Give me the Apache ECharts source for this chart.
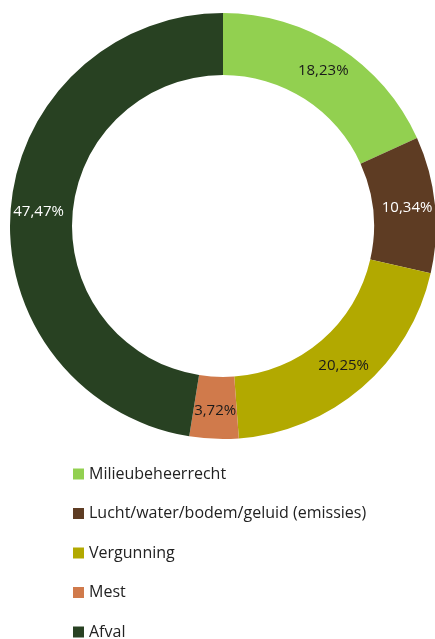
<!DOCTYPE html>
<html>
<head>
<meta charset="utf-8">
<script src="https://cdn.jsdelivr.net/npm/echarts@6/dist/echarts.min.js"></script>
<style>
  html, body { margin: 0; padding: 0; background: #fff; }
  #chart { width: 435px; height: 639px; }
</style>
</head>
<body>
<div id="chart"></div>
<script>
// categories and shares (%)
const categories = ['Milieubeheerrecht', 'Lucht/water/bodem/geluid (emissies)', 'Vergunning', 'Mest', 'Afval']
const shares = [18.23, 10.34, 20.25, 3.72, 47.47]
const colors = ['#92d050', '#5e3c23', '#b2a900', '#d07a4b', '#284122']
const labelColors = ['#1a1a1a', '#ffffff', '#1a1a1a', '#1a1a1a', '#ffffff']

const myChart = echarts.init(document.getElementById('chart'))
myChart.setOption({
    animation: false,
    legend: {
        orient: 'vertical',
        left: 68,
        top: 461,
        height: 220,
        itemWidth: 11,
        itemHeight: 11,
        itemGap: 23.5,
        icon: 'rect',
        textStyle: {
            fontFamily: 'Open Sans',
            fontSize: 16,
            color: '#222'
        },
        data: categories
    },
    series: [
        {
            type: 'pie',
            center: [223, 226],
            radius: [151, 213],
            startAngle: 90,
            clockwise: true,
            silent: true,
            label: {
                position: 'inside',
                fontFamily: 'Open Sans',
                fontSize: 15,
                formatter: p => p.value.toFixed(2).replace('.', ',') + '%'
            },
            labelLine: { show: false },
            data: categories.map((name, i) => ({
                name: name,
                value: shares[i],
                itemStyle: { color: colors[i] },
                label: { color: labelColors[i] }
            }))
        }
    ]
})
</script>
</body>
</html>
